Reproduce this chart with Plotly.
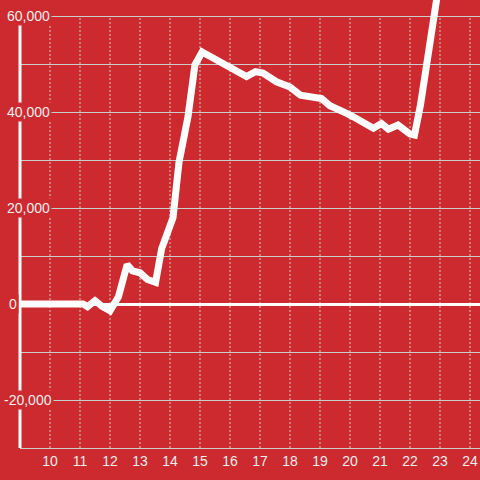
import plotly.graph_objects as go

# Data
hours = [9, 11.1, 11.25, 11.5, 11.75, 12.0, 12.28, 12.57, 12.75, 13.0, 13.25, 13.52,
         13.72, 14.1, 14.3, 14.6, 14.83, 15.07, 15.45, 16.0, 16.55, 16.85, 17.1,
         17.55, 18.0, 18.35, 18.9, 19.05, 19.33, 19.56, 19.89, 20.11, 20.44, 20.78,
         21.05, 21.28, 21.6, 22.0, 22.15, 22.35, 22.95]
values = [0, 0, -550, 700, -550, -1400, 1500, 8200, 6900, 6500, 5100, 4500,
          11500, 18000, 29500, 39000, 49800, 52500, 51200, 49400, 47400, 48400, 48100,
          46300, 45200, 43500, 43200, 42800, 41300, 40800, 39700, 39000, 38000, 36600,
          37600, 36400, 37300, 35400, 35200, 41500, 66000]

x_ticks = list(range(10, 25))
y_label_vals = [60000, 40000, 20000, 0, -20000]
y_label_text = ["60,000", "40,000", "20,000", "0", "-20,000"]
y_label_shift = [-15, -15, -15, -13, -18]

BG = "#cc2a2e"
GRID = "#cccccc"
TXT = "#eeeeee"
FONT = "Liberation Sans"

fig = go.Figure()
fig.add_trace(go.Scatter(
    x=hours, y=values, mode="lines",
    line=dict(color="white", width=7),
    hoverinfo="skip", showlegend=False,
))

shapes = []
for xv in x_ticks:
    shapes.append(dict(type="line", xref="x", yref="y", x0=xv, x1=xv,
                       y0=-30000, y1=60000, layer="below",
                       line=dict(color=GRID, width=1, dash="2px,2px")))
shapes.append(dict(type="line", xref="paper", yref="y", x0=0, x1=0,
                   y0=-30000, y1=60000, layer="above",
                   line=dict(color="white", width=3)))

annotations = []
for v, t, s in zip(y_label_vals, y_label_text, y_label_shift):
    annotations.append(dict(xref="paper", yref="y", x=0, y=v, text=t,
                            xanchor="left", yanchor="middle", xshift=s,
                            showarrow=False, bgcolor=BG,
                            font=dict(family=FONT, size=14, color=TXT)))

fig.update_layout(
    width=480, height=480,
    margin=dict(l=20, r=0, t=0, b=32),
    paper_bgcolor=BG, plot_bgcolor=BG,
    font=dict(family=FONT, size=14, color=TXT),
    shapes=shapes, annotations=annotations,
    xaxis=dict(range=[9, 24.3333], tickvals=x_ticks, showgrid=False,
               zeroline=False, showline=True, linecolor=GRID, linewidth=1,
               ticks="", automargin=False,
               tickfont=dict(family=FONT, size=14, color=TXT)),
    yaxis=dict(range=[-30000, 63333.3], dtick=10000, tick0=0, showgrid=True,
               gridcolor=GRID, gridwidth=1, showticklabels=False,
               zeroline=True, zerolinecolor="white", zerolinewidth=3,
               showline=False, ticks="", automargin=False),
)

fig.write_html("out.html", config={"displayModeBar": False},
               post_script="document.body.style.margin='0';document.body.style.padding='0';")
